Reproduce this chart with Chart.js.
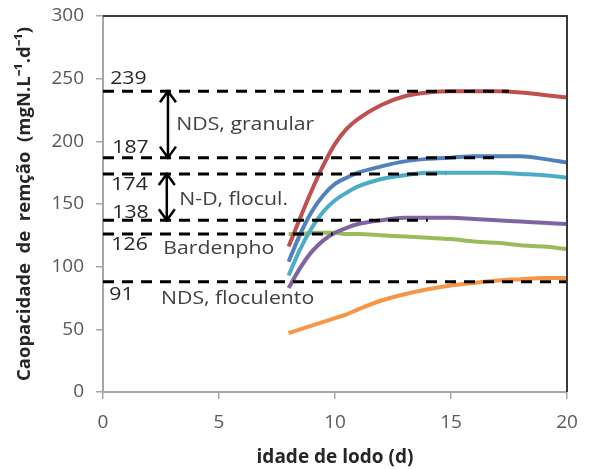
<!DOCTYPE html>
<html>
<head>
<meta charset="utf-8">
<script src="https://cdn.jsdelivr.net/npm/chart.js@4/dist/chart.umd.min.js"></script>
<style>
html, body { margin: 0; padding: 0; background: #fff; }
#caixa { width: 593px; height: 469px; }
</style>
</head>
<body>
<div id="caixa"><canvas id="grafico"></canvas></div>
<script>
// idade de lodo (d)
const idades = [8, 8.5, 9, 9.5, 10, 10.5, 11, 12, 13, 14, 15, 16, 17, 18, 19, 20];

// capacidade de remoção (mgN/L.d) por curva
const ndsGranularMax = [116, 139, 161, 181, 198, 210, 218, 229, 236, 239, 240, 240, 240, 239, 237, 235];
const ndsGranularMin = [104, 126, 144, 157, 166, 171, 175, 180, 184, 186, 187, 188, 188, 188, 186, 183];
const ndFloculMax    = [93, 114, 131, 144, 153, 159, 164, 170, 173, 175, 175, 175, 175, 174, 173, 171];
const ndFloculMin    = [83, 99, 112, 121, 127, 131, 134, 137, 139, 139, 139, 138, 137, 136, 135, 134];
const bardenpho      = [126, 126, 127, 127, 127, 126, 126, 125, 124, 123, 122, 120, 119, 117, 116, 114];
const ndsFloculento  = [47, 50, 53, 56, 59, 62, 66, 73, 78, 82, 85, 87, 89, 90, 91, 91];

// linhas tracejadas de referência
const niveis     = [240, 187, 174, 137, 126, 88];
const niveisFim  = [17.5, 17, 14.75, 14, 9.9, 20];
const niveisTxt  = ['239', '187', '174', '138', '126', '91'];

// setas (faixas)
const setasX     = [2.8, 2.75];
const setasDe    = [240, 174];
const setasAte   = [187, 137];

const processos  = ['NDS, granular', 'N-D, flocul.', 'Bardenpho', 'NDS, floculento'];

const cores = ['#c0504d', '#4f81bd', '#4bacc6', '#8064a2', '#9bbb59', '#f79646'];
const series = [ndsGranularMax, ndsGranularMin, ndFloculMax, ndFloculMin, bardenpho, ndsFloculento];

const datasets = [];
niveis.forEach((v, i) => {
    datasets.push({
        data: [{ x: 0, y: v }, { x: niveisFim[i], y: v }],
        borderColor: '#000',
        borderWidth: 3,
        borderDash: [11, 8],
        pointRadius: 0,
        tension: 0
    });
});
series.forEach((s, i) => {
    datasets.push({
        data: s.map((y, k) => ({ x: idades[k], y: y })),
        borderColor: cores[i],
        borderWidth: 4,
        pointRadius: 0,
        cubicInterpolationMode: 'monotone'
    });
});

// onde escrever os textos (em unidades do gráfico)
const posNumeros  = [[0.31, 249.5], [0.4, 194.5], [0.36, 165], [0.4, 143], [0.36, 117], [0.27, 77.5]];
const posProcesso = [[3.16, 213], [3.29, 153], [2.6, 114], [2.5, 74]];

const textos = {
    id: 'textos',
    afterDatasetsDraw(chart) {
        const ctx = chart.ctx;
        const xs = chart.scales.x, ys = chart.scales.y;
        const escreve = (t, x, y) => {
            ctx.save();
            ctx.translate(xs.getPixelForValue(x), ys.getPixelForValue(y));
            ctx.scale(1.18, 1);
            ctx.fillText(t, 0, 0);
            ctx.restore();
        };
        ctx.save();
        ctx.font = '18px "Open Sans"';
        ctx.textBaseline = 'middle';
        ctx.textAlign = 'left';
        ctx.fillStyle = '#262626';
        niveisTxt.forEach((t, i) => escreve(t, posNumeros[i][0], posNumeros[i][1]));
        ctx.fillStyle = '#404040';
        processos.forEach((t, i) => escreve(t, posProcesso[i][0], posProcesso[i][1]));

        // setas de duas pontas
        ctx.strokeStyle = '#000';
        ctx.lineWidth = 2.5;
        setasX.forEach((sx, i) => {
            const px = xs.getPixelForValue(sx);
            const y1 = ys.getPixelForValue(setasDe[i]);
            const y2 = ys.getPixelForValue(setasAte[i]);
            ctx.beginPath();
            ctx.moveTo(px, y1); ctx.lineTo(px, y2);
            ctx.moveTo(px - 8, y1 + 11); ctx.lineTo(px, y1); ctx.lineTo(px + 8, y1 + 11);
            ctx.moveTo(px - 8, y2 - 11); ctx.lineTo(px, y2); ctx.lineTo(px + 8, y2 - 11);
            ctx.stroke();
        });

        // moldura de cima e da direita
        const a = chart.chartArea;
        ctx.strokeStyle = '#3a3a3a';
        ctx.lineWidth = 2;
        ctx.setLineDash([]);
        ctx.beginPath();
        ctx.moveTo(a.left, a.top); ctx.lineTo(a.right, a.top); ctx.lineTo(a.right, a.bottom);
        ctx.stroke();
        ctx.restore();
    }
};

new Chart(document.getElementById('grafico'), {
    type: 'line',
    data: { datasets: datasets },
    options: {
        responsive: true,
        maintainAspectRatio: false,
        animation: false,
        layout: { padding: { top: 16, right: 26, left: 0, bottom: 0 } },
        plugins: { legend: { display: false }, tooltip: { enabled: false } },
        scales: {
            x: {
                type: 'linear',
                min: 0, max: 20,
                ticks: { stepSize: 5, color: '#595959', padding: 12, font: { family: 'Open Sans', size: 19 } },
                grid: { drawOnChartArea: false, tickLength: 7, color: '#a6a6a6', lineWidth: 1.5 },
                border: { color: '#a6a6a6', width: 2 },
                title: {
                    display: true, text: 'idade de lodo (d)', color: '#262626',
                    font: { family: 'Open Sans', size: 19, weight: 'bold' },
                    padding: { top: 0, bottom: 0 }
                },
                afterFit(s) { s.height = 77; s.paddingLeft = 0; s.paddingRight = 0; }
            },
            y: {
                min: 0, max: 300,
                ticks: { stepSize: 50, color: '#595959', padding: 12, font: { family: 'Open Sans', size: 19 } },
                grid: { drawOnChartArea: false, tickLength: 7, color: '#a6a6a6', lineWidth: 1.5 },
                border: { color: '#a6a6a6', width: 2 },
                title: {
                    display: true, text: 'Caopacidade  de  remção  (mgN.L⁻¹.d⁻¹)', color: '#262626',
                    font: { family: 'Open Sans', size: 18.5, weight: 'bold' },
                    padding: { top: 14, bottom: 0 }
                },
                afterFit(s) { s.width = 103; s.paddingTop = 0; s.paddingBottom = 0; }
            }
        }
    },
    plugins: [textos]
});
</script>
</body>
</html>
